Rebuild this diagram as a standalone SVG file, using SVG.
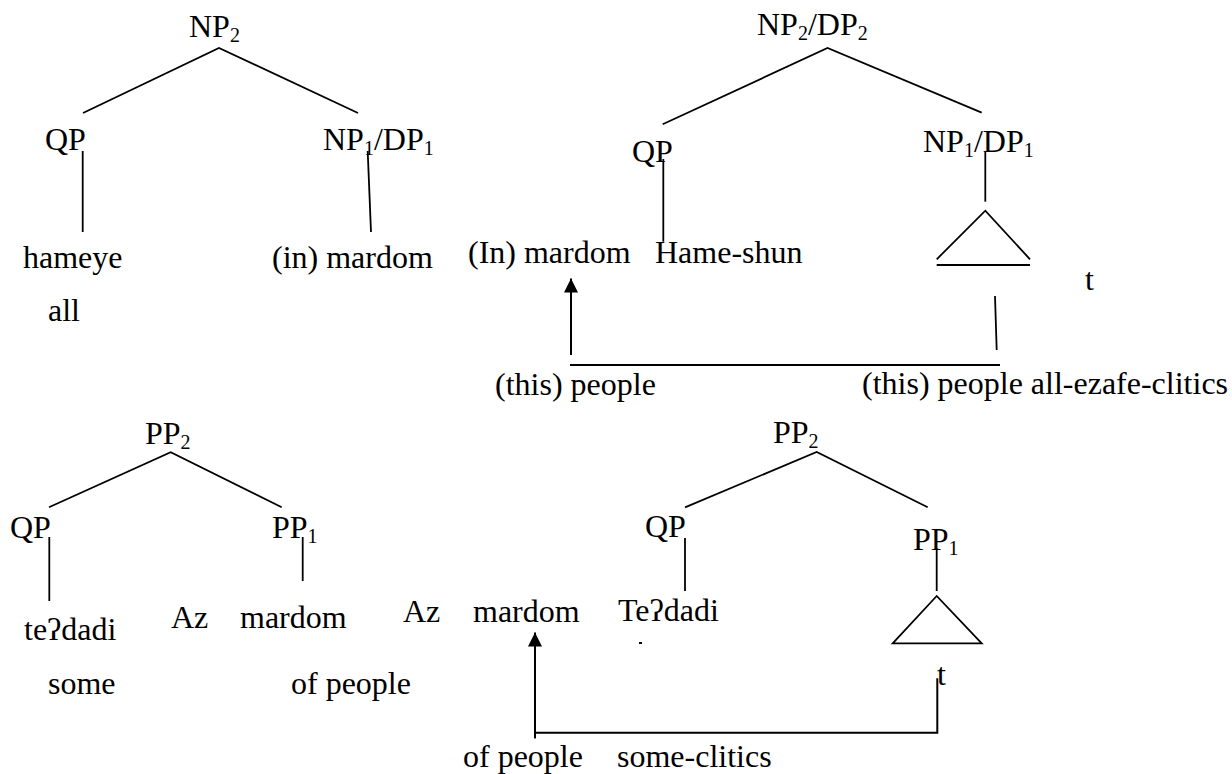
<svg xmlns="http://www.w3.org/2000/svg" width="1232" height="774" viewBox="0 0 1232 774">
  <style>
    text { font-family: "Liberation Serif", "Times New Roman", "DejaVu Serif", serif; font-size: 32px; fill: #000; }
    .sub { font-size: 20px; }
    .edge { stroke: #000; stroke-width: 1.8; fill: none; stroke-linecap: butt; }
    .move { stroke: #000; stroke-width: 2; fill: none; }
  </style>
  <defs>
    <marker id="head" markerUnits="userSpaceOnUse" markerWidth="16" markerHeight="16" refX="14" refY="7" orient="auto">
      <path d="M0,0 L14,7 L0,14 Z" fill="#000"/>
    </marker>
  </defs>
  <rect width="1232" height="774" fill="#fff"/>

  <!-- Tree 1: NP2 over QP and NP1/DP1 -->
  <g id="tree1">
    <g id="t1-np2"><text x="189" y="37">NP<tspan class="sub" dy="5">2</tspan></text></g>
    <g id="t1-qp"><text x="45" y="150">QP</text></g>
    <g id="t1-np1"><text x="323" y="150">NP<tspan class="sub" dy="5">1</tspan><tspan dy="-5">/DP</tspan><tspan class="sub" dy="5">1</tspan></text></g>
    <g id="t1-hameye"><text x="23" y="268">hameye</text></g>
    <g id="t1-all"><text x="48" y="321">all</text></g>
    <g id="t1-mardom"><text x="272" y="268">(in) mardom</text></g>
  </g>

  <!-- Tree 2: NP2/DP2 with raised noun phrase -->
  <g id="tree2">
    <g id="t2-np2"><text x="757" y="35">NP<tspan class="sub" dy="5">2</tspan><tspan dy="-5">/DP</tspan><tspan class="sub" dy="5">2</tspan></text></g>
    <g id="t2-qp"><text x="632" y="162">QP</text></g>
    <g id="t2-np1"><text x="923" y="152">NP<tspan class="sub" dy="5">1</tspan><tspan dy="-5">/DP</tspan><tspan class="sub" dy="5">1</tspan></text></g>
    <g id="t2-mardom"><text x="468" y="263">(In) mardom</text></g>
    <g id="t2-hameshun"><text x="655" y="263">Hame-shun</text></g>
    <g id="t2-triangle">
      <path class="edge" d="M936.7,259.3 L985.3,210.7 L1030,259.3"/>
      <line class="edge" x1="936.7" y1="265" x2="1030" y2="265"/>
    </g>
    <g id="t2-trace"><text x="1085" y="290">t</text></g>
    <g id="t2-gloss1"><text x="495" y="395">(this) people</text></g>
    <g id="t2-gloss2"><text x="862" y="394">(this) people all-ezafe-clitics</text></g>
  </g>

  <!-- Tree 3: PP2 over QP and PP1 -->
  <g id="tree3">
    <g id="t3-pp2"><text x="145" y="444">PP<tspan class="sub" dy="5">2</tspan></text></g>
    <g id="t3-qp"><text x="10" y="538">QP</text></g>
    <g id="t3-pp1"><text x="272" y="538">PP<tspan class="sub" dy="5">1</tspan></text></g>
    <g id="t3-tedadi"><text x="24" y="640">te&#x294;dadi</text></g>
    <g id="t3-az"><text x="171" y="628">Az</text></g>
    <g id="t3-mardom"><text x="240" y="628">mardom</text></g>
    <g id="t3-some"><text x="48" y="694">some</text></g>
    <g id="t3-ofpeople"><text x="291" y="694">of people</text></g>
  </g>

  <!-- Tree 4: PP2 with raised PP -->
  <g id="tree4">
    <g id="t4-pp2"><text x="773" y="443">PP<tspan class="sub" dy="5">2</tspan></text></g>
    <g id="t4-qp"><text x="645" y="537">QP</text></g>
    <g id="t4-pp1"><text x="913" y="550">PP<tspan class="sub" dy="5">1</tspan></text></g>
    <g id="t4-az"><text x="403" y="622">Az</text></g>
    <g id="t4-mardom"><text x="473" y="622">mardom</text></g>
    <g id="t4-tedadi"><text x="618" y="621">Te&#x294;dadi</text></g>
    <rect x="639" y="642" width="3" height="2" fill="#000"/>
    <g id="t4-triangle"><path class="edge" d="M936.7,596 L892.7,643.3 L981.7,643.3 Z"/></g>
    <g id="t4-trace"><text x="937" y="685">t</text></g>
    <g id="t4-gloss1"><text x="463" y="767">of people</text></g>
    <g id="t4-gloss2"><text x="617" y="767">some-clitics</text></g>
  </g>

  <g id="connectors">
    <!-- tree 1 branches -->
    <path class="edge" d="M83,113 L219,48 L358,113"/>
    <line class="edge" x1="82.7" y1="151" x2="82.7" y2="232"/>
    <line class="edge" x1="367.7" y1="151" x2="371" y2="232"/>
    <!-- tree 2 branches -->
    <path class="edge" d="M662.7,124.3 L827.5,48 L981.7,112.7"/>
    <line class="edge" x1="663.3" y1="159" x2="663.3" y2="241.7"/>
    <line class="edge" x1="985.3" y1="152" x2="985.3" y2="201.7"/>
    <line class="edge" x1="995" y1="296" x2="996.7" y2="350"/>
    <line class="edge" x1="570" y1="365" x2="1000" y2="365"/>
    <line class="move" x1="571" y1="355" x2="571" y2="278.5" marker-end="url(#head)"/>
    <!-- tree 3 branches -->
    <path class="edge" d="M49,507.3 L170.7,452.3 L281.7,507.3"/>
    <line class="edge" x1="49.3" y1="537" x2="49.3" y2="601"/>
    <line class="edge" x1="302.7" y1="537" x2="302.7" y2="581"/>
    <!-- tree 4 branches -->
    <path class="edge" d="M685,507.3 L816.7,452 L927.7,507.3"/>
    <line class="edge" x1="685" y1="538" x2="685" y2="591"/>
    <line class="edge" x1="936.7" y1="548" x2="936.7" y2="591"/>
    <path class="move" d="M937.3,678.3 L937.3,732.7 L535,732.7 L535,738.3"/>
    <line class="move" x1="535" y1="738.3" x2="535" y2="632.5" marker-end="url(#head)"/>
  </g>
</svg>
